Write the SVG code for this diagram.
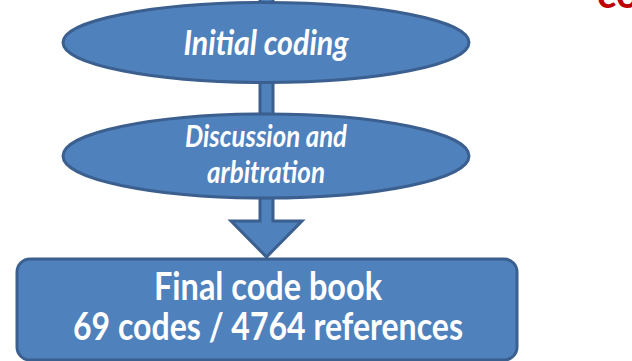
<svg xmlns="http://www.w3.org/2000/svg" width="632" height="361" viewBox="0 0 632 361">
<style>
.shape{fill:#4f81bd;stroke:#3b5f8e;stroke-width:3}
.lbl{fill:#ffffff;font-family:Lato,"Open Sans","Liberation Sans",sans-serif;font-weight:bold;text-anchor:middle}
.it{font-style:italic}
</style>
<rect width="632" height="361" fill="#ffffff"/>
<text x="597" y="8" font-family="Lato,'Liberation Sans',sans-serif" font-weight="bold" font-size="40" fill="#c00000">co</text>
<g id="connectors">
<rect class="shape" x="260" y="-4" width="13" height="10"/>
<rect class="shape" x="260" y="80" width="13" height="38"/>
<path class="shape" d="M260,195 L273,195 L273,221 L302,221 L266.5,257 L231,221 L260,221 Z"/>
</g>
<g id="initial-coding">
<ellipse class="shape" cx="266" cy="42.5" rx="203" ry="40"/>
<text class="lbl it" x="266" y="55" font-size="35" textLength="165" lengthAdjust="spacingAndGlyphs">Initial coding</text>
</g>
<g id="discussion">
<ellipse class="shape" cx="266" cy="156" rx="203" ry="42"/>
<text class="lbl it" x="266" y="147" font-size="31" textLength="162" lengthAdjust="spacingAndGlyphs">Discussion and</text>
<text class="lbl it" x="266" y="183" font-size="31" textLength="118" lengthAdjust="spacingAndGlyphs">arbitration</text>
</g>
<g id="final-code-book">
<rect class="shape" x="17" y="259" width="500" height="101" rx="13"/>
<text class="lbl" x="268" y="300" font-size="39" textLength="228" lengthAdjust="spacingAndGlyphs">Final code book</text>
<text class="lbl" x="268" y="340" font-size="38" textLength="390" lengthAdjust="spacingAndGlyphs">69 codes / 4764 references</text>
</g>
</svg>
